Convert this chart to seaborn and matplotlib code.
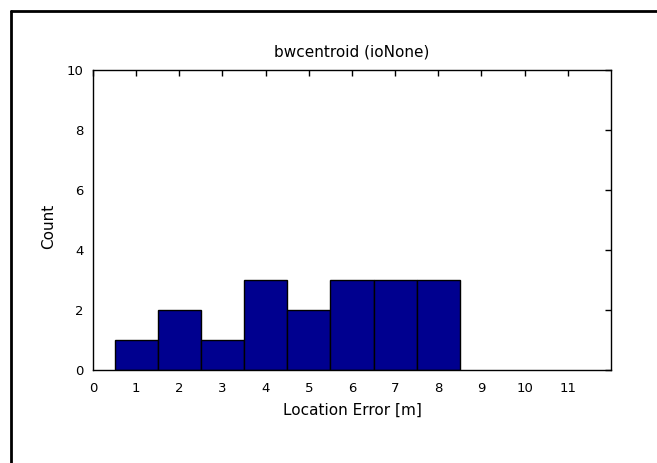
import matplotlib
matplotlib.use("Agg")
import matplotlib.pyplot as plt
from matplotlib.lines import Line2D
import seaborn as sns

# Histogram of location errors, one bin per metre
bin_centers = [1, 2, 3, 4, 5, 6, 7, 8]
counts = [1, 2, 1, 3, 2, 3, 3, 3]
x_ticks = [0, 1, 2, 3, 4, 5, 6, 7, 8, 9, 10, 11]
y_ticks = [0, 2, 4, 6, 8, 10]

sns.set_style("white")
plt.rcParams["font.family"] = ["DejaVu Sans"]
plt.rcParams["text.color"] = "black"
plt.rcParams["axes.labelcolor"] = "black"

fig = plt.figure(figsize=(6.57, 4.63), dpi=100)
ax = fig.add_axes([93 / 657, 93 / 463, 518 / 657, 300 / 463])

sns.histplot(x=bin_centers, weights=counts, discrete=True, ax=ax,
             color="#00008F", edgecolor="black", linewidth=1.0, alpha=1.0)

ax.set_xlim(0, 12)
ax.set_ylim(0, 10)
ax.set_xticks(x_ticks)
ax.set_yticks(y_ticks)
ax.tick_params(direction="in", length=4, width=1, top=True, right=True,
               labelsize=9.5, colors="black")
ax.tick_params(axis="x", pad=9)
ax.tick_params(axis="y", pad=7)
for s in ax.spines.values():
    s.set_visible(True)
    s.set_color("black")
    s.set_linewidth(1.0)

ax.set_xlabel("Location Error [m]", fontsize=11, color="black", labelpad=5)
ax.set_ylabel("Count", fontsize=11, color="black")
ax.yaxis.set_label_coords(-0.072, 0.48)
ax.set_title("bwcentroid (ioNone)", fontsize=11, color="black", pad=10)

# Frame around the figure (left and top edges)
x0 = 11 / 657
y0 = 1 - 11 / 463
fig.add_artist(Line2D([x0, x0], [0, y0], transform=fig.transFigure, color="black", lw=2))
fig.add_artist(Line2D([x0, 1], [y0, y0], transform=fig.transFigure, color="black", lw=2))

fig.savefig("out.png", dpi=100, facecolor="white")
